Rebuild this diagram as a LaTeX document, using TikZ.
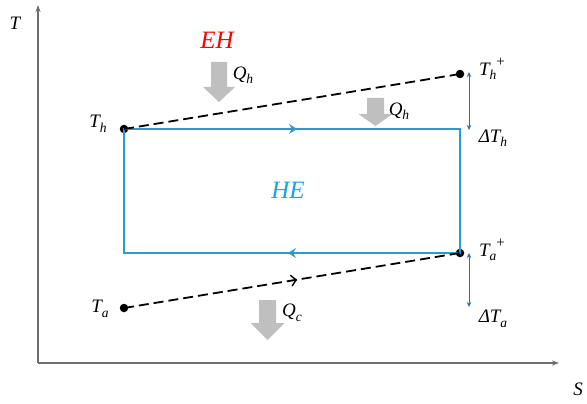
\documentclass[tikz,border=0pt]{standalone}
\usepackage{fontspec}
\setmainfont{Liberation Serif}
\usetikzlibrary{arrows.meta}
\definecolor{cyc}{HTML}{2A9AD2}
\definecolor{hecol}{HTML}{1AA3E8}
\definecolor{dcol}{HTML}{2F6F9F}
\definecolor{gr}{HTML}{BFBFBF}
\definecolor{ax}{HTML}{6E6E6E}
\tikzset{
  lbl/.style={inner sep=0pt, font=\fontsize{19}{19}\selectfont\itshape},
  big/.style={inner sep=0pt, font=\fontsize{25}{25}\selectfont\itshape},
  dot/.style={circle, fill=black, inner sep=0pt, minimum size=8.5pt},
  dsh/.style={dash pattern=on 10pt off 5pt, line width=1.8pt},
  cyl/.style={cyc, line width=1.4pt},
  cyarr/.style={cyc, line width=1.4pt, -{Stealth[length=8pt,width=10pt,inset=3pt]}},
  dl/.style={dcol, line width=1pt, {Stealth[length=5pt,width=4.5pt]}-{Stealth[length=5pt,width=4.5pt]}},
  axis/.style={ax, line width=1.4pt, -{Stealth[length=7pt,width=5pt]}},
}
\newcommand{\lsub}[1]{\raisebox{-4.5pt}{\fontsize{13.5}{13.5}\selectfont #1}}
\newcommand{\lsup}[1]{\raisebox{9pt}{\fontsize{15}{15}\selectfont\upshape #1}}
\newcommand{\fatarrow}[5]{% x, ytop, yhead, ytip, halfshaft
  \fill[gr] (#1-#5,#2) -- (#1+#5,#2) -- (#1+#5,#3) -- (#1+2*#5,#3) -- (#1,#4) -- (#1-2*#5,#3) -- (#1-#5,#3) -- cycle;}
\begin{document}
\begin{tikzpicture}[x=1pt,y=-1pt]
\useasboundingbox (0,0) rectangle (587,404);
% axes
\coordinate (O) at (38,363);
\coordinate (Ty) at (38,5);
\coordinate (Sx) at (559,363);
\draw[axis] (O) -- (Ty);
\draw[axis] (O) -- (Sx);
\node[lbl] (T) at (15,23) {T};
\node[lbl] (S) at (578,389) {S};
% points
\node[dot] (Th) at (124,129) {};
\node[dot] (Thp) at (460,74) {};
\node[dot] (Tap) at (460,253) {};
\node[dot] (Ta) at (124,308) {};
\coordinate (TR) at (460,129);
\coordinate (BL) at (124,253);
% cycle
\draw[cyl] (Th.center) -- (TR) -- (Tap.center) -- (BL) -- cycle;
\draw[cyarr] (280,129) -- (297,129);
\draw[cyarr] (305,253) -- (288,253);
% dashed lines
\draw[dsh] (Th.center) -- (Thp.center);
\draw[dsh] (Ta.center) -- (Tap.center);
\path (Ta.center) -- (Tap.center) coordinate[pos=0.515] (mA) coordinate[pos=0.5] (mB);
\draw[line width=1.4pt, -{Straight Barb[length=5pt,width=11pt]}] (mB) -- (mA);
% delta arrows
\coordinate (d1a) at (469,72);
\coordinate (d1b) at (469,130);
\coordinate (d2a) at (469,253);
\coordinate (d2b) at (469,307);
\draw[dl] (d1a) -- (d1b);
\draw[dl] (d2a) -- (d2b);
% labels
\node[lbl] (lTh) at (98,124) {T\lsub{h}};
\node[lbl] (lTa) at (100,309) {T\lsub{a}};
\node[lbl] (lThp) at (492,69) {T\lsub{h}\lsup{+}};
\node[lbl] (lTap) at (492,250) {T\lsub{a}\lsup{+}};
\node[lbl] (lDTh) at (493,138) {ΔT\lsub{h}};
\node[lbl] (lDTa) at (493,319) {ΔT\lsub{a}};
\node[big, red] (EH) at (217,40) {EH};
\node[big, hecol] (HE) at (288,190) {HE};
% heat arrows
\fatarrow{219}{62}{87}{102}{8}
\fatarrow{375.5}{98}{114}{126}{8.5}
\fatarrow{267.5}{300}{323}{340}{8.5}
\node[lbl] (Q1) at (243,75) {Q\lsub{h}};
\node[lbl] (Q2) at (399,111) {Q\lsub{h}};
\node[lbl] (Q3) at (292,313) {Q\lsub{c}};
\end{tikzpicture}
\end{document}
